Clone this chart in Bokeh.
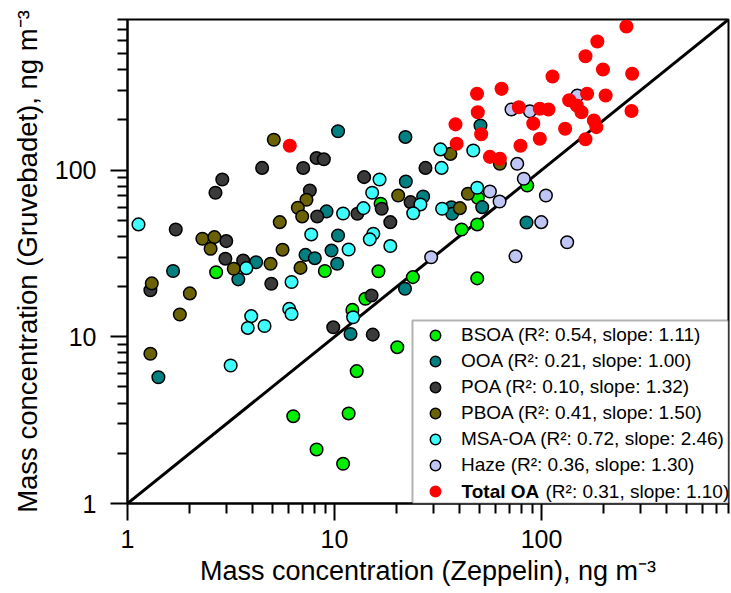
import math
from bokeh.plotting import figure
from bokeh.models import FixedTicker, NumeralTickFormatter, Legend, LegendItem, Label, BoxAnnotation
from bokeh.embed import file_html
from bokeh.resources import INLINE

# ---------------- data ----------------
bsoa_x = [2.68, 8.98, 6.32, 8.19, 11.0, 11.7, 16.7, 16.3, 23.9, 41.1, 48.9, 48.9, 85.3, 49.2, 12.2, 20.1, 12.8, 14.1]
bsoa_y = [24.4, 24.8, 3.34, 2.11, 1.73, 3.47, 62.8, 24.7, 22.8, 44.0, 47.2, 22.4, 80.8, 68.2, 14.5, 8.66, 6.22, 16.9]

ooa_x = [1.66, 3.43, 4.18, 1.41, 10.4, 9.15, 10.4, 7.24, 8.03, 9.67, 10.3, 22.0, 22.1, 26.8, 21.9, 11.95, 36.7, 37.0, 51.7, 84.6, 50.7]
ooa_y = [24.8, 22.1, 28.0, 5.72, 171, 56.5, 40.5, 31.0, 29.6, 32.9, 27.4, 158, 85.4, 69.4, 19.4, 10.4, 59.9, 54.7, 59.9, 48.5, 185]

poa_x = [1.71, 1.29, 3.0, 2.97, 3.62, 4.95, 4.47, 2.87, 2.66, 7.06, 8.19, 8.88, 7.6, 8.25, 13.9, 16.9, 12.9, 18.6, 23.3, 9.86, 15.1, 15.3, 27.5]
poa_y = [44.0, 19.0, 37.5, 29.4, 28.7, 20.8, 103, 87.8, 73.1, 103, 118, 116, 75.4, 52.7, 90.7, 58.6, 54.7, 48.7, 64.2, 11.4, 17.7, 10.3, 103]

pboa_x = [2.30, 2.63, 2.52, 1.31, 2.0, 1.79, 1.29, 3.26, 4.91, 5.09, 7.32, 6.65, 6.98, 5.44, 5.61, 6.85, 20.3, 40.3, 44.1, 36.3, 62.9]
pboa_y = [38.7, 39.6, 33.7, 20.9, 18.2, 13.6, 7.91, 25.6, 27.4, 152, 66.4, 59.4, 52.7, 48.7, 33.3, 25.9, 70.4, 59.1, 72.1, 125, 109]

msa_x = [1.13, 3.75, 6.2, 3.15, 3.96, 3.81, 4.59, 6.04, 6.2, 11.0, 7.72, 11.7, 16.5, 15.2, 13.8, 26.0, 24.0, 15.4, 14.8, 18.6, 12.3, 33.1, 48.9, 32.5, 32.9, 46.8]
msa_y = [47.2, 25.8, 21.3, 6.73, 13.3, 11.3, 11.6, 14.7, 13.7, 54.9, 41.1, 33.4, 87.8, 73.1, 59.1, 62.2, 55.1, 41.5, 38.4, 35.0, 13.1, 58.6, 78.3, 133, 103, 131]

haze_x = [29.3, 74.9, 99.7, 105, 82.1, 76.3, 56.3, 62.7, 133, 71.6, 87.8, 149]
haze_y = [30.0, 30.4, 48.7, 70.4, 88.7, 109, 74.4, 64.8, 36.9, 231, 225, 280]

toa_x = [6.08, 257, 186, 163, 198, 274, 113, 64.1, 48.8, 49.2, 38.4, 51.1, 38.9, 77.7, 98.1, 108, 91.2, 98.1, 79.1,
         130, 136, 166, 148, 156, 204, 272, 179, 184, 163, 56.3, 62.9]
toa_y = [140, 727, 591, 482, 401, 378, 364, 307, 287, 222, 188, 164, 144, 238, 233, 231, 190, 154, 140,
         177, 262, 287, 244, 222, 280, 226, 198, 181, 153, 120, 117]

names = ["BSOA", "OOA", "POA", "PBOA", "MSA-OA", "Haze", "Total OA"]
r2 = ["0.54", "0.21", "0.10", "0.41", "0.72", "0.36", "0.31"]
slopes = ["1.11", "1.00", "1.32", "1.50", "2.46", "1.30", "1.10"]

one_to_one = [1, 800]
major_ticks = [1, 10, 100]
minor_ticks = [2, 3, 4, 5, 6, 7, 8, 9, 20, 30, 40, 50, 60, 70, 80, 90, 200, 300, 400, 500, 600, 700, 800]

# ---------------- styling ----------------
colors = ["#00ee00", "#008080", "#3a3a3a", "#6b6205", "#3dffff", "#bfc6f5", "#ff0000"]
FONT = "Liberation Sans"
FW, FH = 601, 484
LMAX = math.log10(800)

def xd(px):
    return 10 ** (px / FW * LMAX)

def yd(px):
    return 10 ** (px / FH * LMAX)

p = figure(width=731, height=593, x_axis_type="log", y_axis_type="log",
           x_range=(1, 800), y_range=(1, 800),
           output_backend="svg", toolbar_location=None,
           min_border_left=127, min_border_right=3, min_border_top=19, min_border_bottom=90)
p.background_fill_color = "white"
p.border_fill_color = "white"
p.grid.visible = False
p.outline_line_color = "black"
p.outline_line_width = 2

for ax in (p.xaxis[0], p.yaxis[0]):
    ax.ticker = FixedTicker(ticks=major_ticks, minor_ticks=minor_ticks)
    ax.formatter = NumeralTickFormatter(format="0")
    ax.axis_line_width = 2
    ax.axis_line_color = "black"
    ax.major_tick_line_width = 2
    ax.minor_tick_line_width = 2
    ax.major_tick_line_color = "black"
    ax.minor_tick_line_color = "black"
    ax.major_tick_in = 0
    ax.minor_tick_in = 0
    ax.major_tick_out = 17
    ax.minor_tick_out = 10
    ax.major_label_text_font = FONT
    ax.major_label_text_font_size = "25px"
    ax.major_label_text_color = "black"
    ax.axis_label_text_font = FONT
    ax.axis_label_text_font_style = "normal"
    ax.axis_label_text_color = "black"

p.xaxis.axis_label = "Mass concentration (Zeppelin), ng m\u207b\u00b3"
p.yaxis.axis_label = "Mass concentration (Gruvebadet), ng m\u207b\u00b3"
p.xaxis.axis_label_text_font_size = "27px"
p.yaxis.axis_label_text_font_size = "27.5px"
p.xaxis.major_label_standoff = 9
p.yaxis.major_label_standoff = 14
p.xaxis.axis_label_standoff = 5
p.yaxis.axis_label_standoff = 9

p.line(one_to_one, one_to_one, line_color="black", line_width=3)

series = [(bsoa_x, bsoa_y), (ooa_x, ooa_y), (poa_x, poa_y), (pboa_x, pboa_y),
          (msa_x, msa_y), (haze_x, haze_y), (toa_x, toa_y)]
renderers = []
for (xs, ys), c in zip(series, colors):
    lc = c if c == "#ff0000" else "black"
    r = p.scatter(xs, ys, marker="circle", size=12.6, fill_color=c, line_color=lc, line_width=1.5)
    renderers.append(r)

# legend box
box = BoxAnnotation(left=xd(285), right=800, bottom=1, top=yd(183),
                    fill_color="white", fill_alpha=1.0, line_color="black", line_width=2)
p.add_layout(box)

items = []
for i, (n, rr, s, r) in enumerate(zip(names, r2, slopes, renderers)):
    lab = f"{n} (R\u00b2: {rr}, slope: {s})" if i < 6 else " "
    items.append(LegendItem(label=lab, renderers=[r]))

LEG_X, LEG_Y = 288, -1
GW, GH, STAND = 40, 26, 6
LSIZE = "19px"
legend = Legend(items=items, location=(LEG_X, LEG_Y), orientation="vertical",
                glyph_width=GW, glyph_height=GH, label_height=GH, spacing=0,
                padding=0, margin=0, label_standoff=STAND,
                label_text_font=FONT, label_text_font_size=LSIZE, label_text_color="black",
                border_line_alpha=0, background_fill_alpha=0)
p.add_layout(legend)

# last legend row: bold name + normal statistics
row_y = LEG_Y + GH / 2
tx = LEG_X + GW + STAND
p.add_layout(Label(x=xd(tx), y=yd(row_y), text=names[6], text_font=FONT, text_font_size=LSIZE,
                   text_font_style="bold", text_baseline="middle", text_align="left", text_color="black"))
p.add_layout(Label(x=xd(tx + 84), y=yd(row_y), text=f"(R\u00b2: {r2[6]}, slope: {slopes[6]})",
                   text_font=FONT, text_font_size=LSIZE, text_baseline="middle", text_align="left",
                   text_color="black"))

open("out.html", "w").write(file_html(p, INLINE))
